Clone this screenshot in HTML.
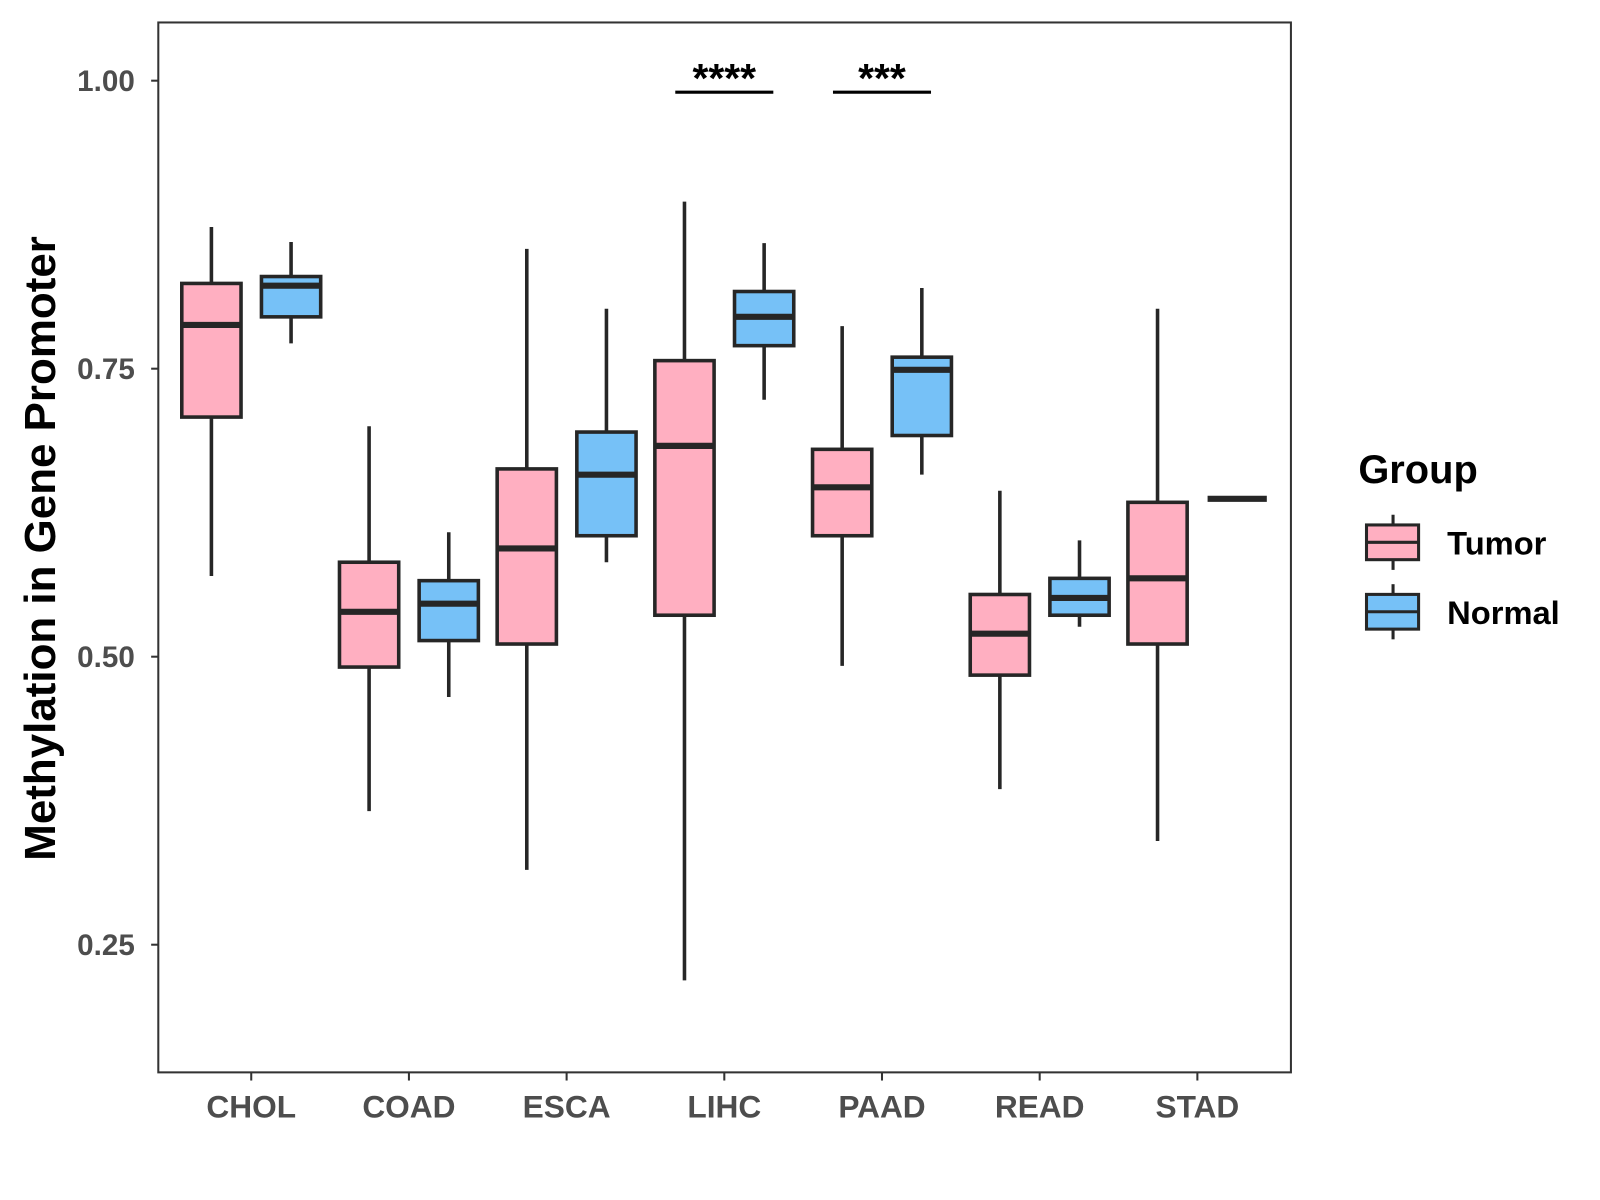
<!DOCTYPE html>
<html><head><meta charset="utf-8"><style>body{margin:0;background:#fff}svg{display:block}text{font-family:"Liberation Sans",Arial,sans-serif;font-weight:bold}</style></head>
<body>
<svg id="c" width="1600" height="1200"><g id="root" transform="scale(1.0213)"></g></svg>
<script>
const categories=["CHOL","COAD","ESCA","LIHC","PAAD","READ","STAD"];
const groups=["Tumor","Normal"];
// [low, q1, median, q3, high]
const tumorStats=[[0.570,0.708,0.788,0.824,0.873],[0.366,0.491,0.539,0.582,0.700],[0.315,0.511,0.594,0.663,0.854],[0.219,0.536,0.683,0.757,0.895],[0.492,0.605,0.647,0.680,0.787],[0.385,0.484,0.520,0.554,0.644],[0.340,0.511,0.568,0.634,0.802]];
const normalStats=[[0.772,0.795,0.822,0.830,0.860],[0.465,0.514,0.546,0.566,0.608],[0.582,0.605,0.658,0.695,0.802],[0.723,0.770,0.795,0.817,0.859],[0.658,0.692,0.749,0.760,0.820],[0.526,0.536,0.551,0.568,0.601],[0.637,0.637,0.637,0.637,0.637]];
const yTicks=[0.25,0.50,0.75,1.00];
const yTickLabels=["0.25","0.50","0.75","1.00"];
const sigCats=["LIHC","PAAD"];
const sigLabels=["****","***"];
const sigY=0.99;
const colors=["#ffafc1","#76c1f7"];
const svg=document.getElementById('root');const NS="http://www.w3.org/2000/svg";
function el(t,a,p){const e=document.createElementNS(NS,t);for(const k in a)e.setAttribute(k,a[k]);(p||svg).appendChild(e);return e;}
const L=155,R=1264,T=22,B=1050;
const y=v=>79+(1-v)*1128;
const x=i=>246+i*154.4;
for(let i=0;i<yTicks.length;i++){
 const yy=y(yTicks[i]);
 const t=el('line',{x1:148,x2:L,y1:yy,y2:yy,stroke:'#333','stroke-width':2});
 
 const tx=el('text',{x:132,y:yy+10,'text-anchor':'end','font-size':29,fill:'#4d4d4d'});tx.textContent=yTickLabels[i];
 
}
categories.forEach((c,i)=>{
 const t=el('line',{x1:x(i),x2:x(i),y1:B,y2:B+8,stroke:'#333','stroke-width':2});
 
 const tx=el('text',{x:x(i),y:1094,'text-anchor':'middle','font-size':31,fill:'#4d4d4d'});tx.textContent=c;
 
 [tumorStats[i],normalStats[i]].forEach((s,g)=>{
  const cx=x(i)+(g?39:-39),w=29;
  const grp=el('g',{});
  
  
  el('line',{x1:cx,x2:cx,y1:y(s[4]),y2:y(s[0]),stroke:'#262626','stroke-width':3.5},grp);
  el('rect',{x:cx-w,y:y(s[3]),width:2*w,height:Math.max(0,y(s[1])-y(s[3])),fill:colors[g],stroke:'#262626','stroke-width':3.5},grp);
  el('line',{x1:cx-w,x2:cx+w,y1:y(s[2]),y2:y(s[2]),stroke:'#262626','stroke-width':6},grp);
 });
});
sigCats.forEach((c,k)=>{
 const i=categories.indexOf(c);
 const ln=el('line',{x1:x(i)-48,x2:x(i)+48,y1:y(sigY),y2:y(sigY),stroke:'#000','stroke-width':3});
 
 const tx=el('text',{x:x(i),y:y(sigY),'text-anchor':'middle','font-size':40,fill:'#000'});tx.textContent=sigLabels[k];
 
});
const fr=el('rect',{x:L,y:T,width:R-L,height:B-T,fill:'none',stroke:'#333','stroke-width':2});

const yt=el('text',{x:0,y:0,transform:'translate(54,537) rotate(-90)','text-anchor':'middle','font-size':43,fill:'#000'});yt.textContent='Methylation in Gene Promoter';

const lt=el('text',{x:1330,y:473,'font-size':39,fill:'#000'});lt.textContent='Group';

groups.forEach((g,k)=>{
 const top=514+k*68;
 const e=el('g',{});
 
 el('line',{x1:1364,x2:1364,y1:top-10,y2:top+44,stroke:'#262626','stroke-width':3},e);
 el('rect',{x:1338,y:top,width:51,height:34,fill:colors[k],stroke:'#262626','stroke-width':3},e);
 el('line',{x1:1338,x2:1389,y1:top+17,y2:top+17,stroke:'#262626','stroke-width':3},e);
 const t=el('text',{x:1417,y:top+29,'font-size':32,fill:'#000'},e);t.textContent=g;
});
</script>
</body></html>
